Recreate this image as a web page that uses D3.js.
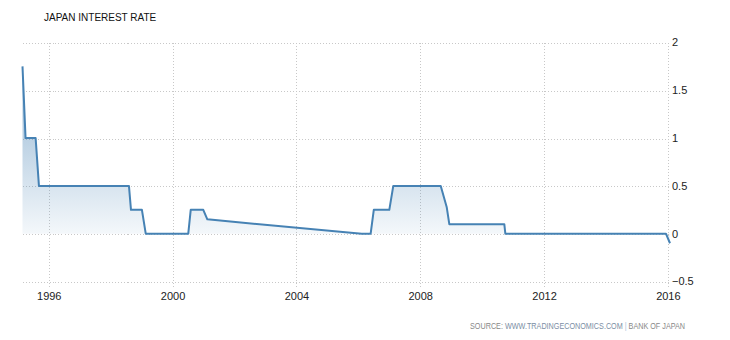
<!DOCTYPE html>
<html>
<head>
<meta charset="utf-8">
<script src="https://cdnjs.cloudflare.com/ajax/libs/d3/7.8.5/d3.min.js"></script>
<style>
  body { margin: 0; background: #fff; }
  svg text { font-family: "Liberation Sans", Arial, sans-serif; }
  .grid line { stroke: #c8c8c8; stroke-dasharray: 1,2; shape-rendering: crispEdges; }
</style>
</head>
<body>
<svg id="chart" width="730" height="340"></svg>
<script>
// Bank of Japan policy rate
const dates = [
  "1995-03-03", "1995-04-08", "1995-08-05", "1995-09-13",
  "1998-08-10", "1998-09-03", "1999-01-10", "1999-02-24",
  "2000-07-10", "2000-08-08", "2001-01-03", "2001-02-20",
  "2006-02-15", "2006-06-01", "2006-07-08", "2007-01-07",
  "2007-02-23", "2008-09-05", "2008-11-14", "2008-12-15",
  "2010-09-25", "2010-10-07", "2015-12-15", "2016-02-01"
];
const rates = [
  1.75, 1.0, 1.0, 0.5,
  0.5, 0.25, 0.25, 0,
  0, 0.25, 0.25, 0.15,
  0, 0, 0.25, 0.25,
  0.5, 0.5, 0.28, 0.1,
  0.1, 0, 0, -0.1
];
const yTicks = [-0.5, 0, 0.5, 1, 1.5, 2];
const xTickYears = [1996, 2000, 2004, 2008, 2012, 2016];

const title = "JAPAN INTEREST RATE";

let parse = d3.timeParse("%Y-%m-%d");
let data = dates.map((d, i) => ({ date: parse(d), value: rates[i] }));

let svg = d3.select("#chart"),
  margin = { top: 42.5, right: 60, bottom: 58.5, left: 22.5 },
  width = 730 - margin.left - margin.right,
  height = 340 - margin.top - margin.bottom;

let x = d3.scaleTime()
  .domain([d3.min(data, d => d.date), d3.max(data, d => d.date)])
  .range([0, width]);
let y = d3.scaleLinear().domain([-0.5, 2]).range([height, 0]);

let defs = svg.append("defs");
let grad = defs.append("linearGradient")
  .attr("id", "areaFill")
  .attr("gradientUnits", "userSpaceOnUse")
  .attr("x1", 0).attr("x2", 0)
  .attr("y1", y(1.75)).attr("y2", y(0));
grad.append("stop").attr("offset", "0%").attr("stop-color", "#4682b4").attr("stop-opacity", 0.6);
grad.append("stop").attr("offset", "100%").attr("stop-color", "#4682b4").attr("stop-opacity", 0.06);

let g = svg.append("g")
  .attr("transform", "translate(" + margin.left + "," + margin.top + ")");

// horizontal grid
g.append("g")
  .attr("class", "grid")
  .selectAll("line")
  .data(yTicks)
  .enter()
  .append("line")
  .attr("x1", 0)
  .attr("x2", width + 1)
  .attr("y1", d => Math.round(y(d)) + 0.5)
  .attr("y2", d => Math.round(y(d)) + 0.5);

// vertical grid
let xTicks = xTickYears.map(yr => new Date(yr, 0, 1));
g.append("g")
  .attr("class", "grid")
  .selectAll("line")
  .data(xTicks)
  .enter()
  .append("line")
  .attr("x1", d => Math.round(x(d)) + 0.5)
  .attr("x2", d => Math.round(x(d)) + 0.5)
  .attr("y1", 0)
  .attr("y2", height + 5);

// area + line
let area = d3.area()
  .x(d => x(d.date))
  .y0(y(0))
  .y1(d => y(d.value));
g.append("path")
  .datum(data)
  .attr("fill", "url(#areaFill)")
  .attr("d", area);

let line = d3.line()
  .x(d => x(d.date))
  .y(d => y(d.value));
g.append("path")
  .datum(data)
  .attr("fill", "none")
  .attr("stroke", "#4682b4")
  .attr("stroke-width", 2)
  .attr("stroke-linejoin", "round")
  .attr("d", line);

// y axis labels on the right
g.append("g")
  .selectAll("text")
  .data(yTicks)
  .enter()
  .append("text")
  .attr("x", width + 2)
  .attr("y", d => y(d))
  .attr("dy", "0.35em")
  .attr("font-size", 11)
  .attr("fill", "#222")
  .text(d => d3.format("")(d));

// x axis labels
g.append("g")
  .selectAll("text")
  .data(xTicks)
  .enter()
  .append("text")
  .attr("x", d => x(d) + 1)
  .attr("y", height + 15)
  .attr("dy", "0.35em")
  .attr("text-anchor", "middle")
  .attr("font-size", 11)
  .attr("fill", "#222")
  .text(d => d.getFullYear());

// title
svg.append("text")
  .attr("x", 44)
  .attr("y", 17)
  .attr("dy", "0.35em")
  .attr("font-size", 10)
  .attr("fill", "#111")
  .text(title);

// source, squeezed horizontally like the original
let src = svg.append("text")
  .attr("transform", "translate(685,326) scale(0.85,1)")
  .attr("dy", "0.35em")
  .attr("text-anchor", "end")
  .attr("font-size", 8.5)
  .attr("fill", "#888");
src.append("tspan").text("SOURCE: ");
src.append("tspan").attr("fill", "#7b8ea4").text("WWW.TRADINGECONOMICS.COM");
src.append("tspan").attr("fill", "#a9c1d9").text(" | ");
src.append("tspan").text("BANK OF JAPAN");
</script>
</body>
</html>
